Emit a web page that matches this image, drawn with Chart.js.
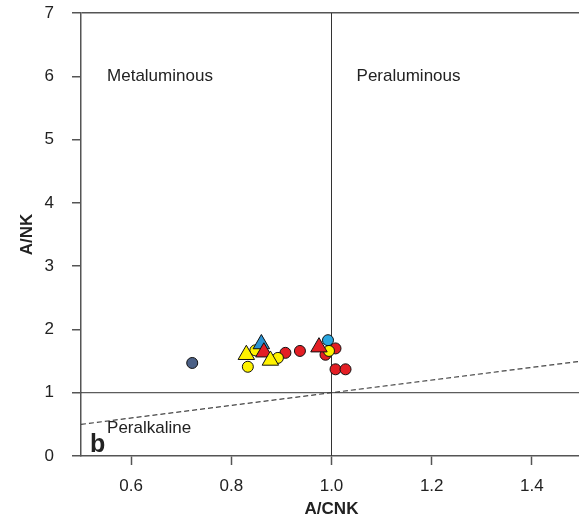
<!DOCTYPE html>
<html>
<head>
<title>A/CNK - A/NK</title>
<style>
  body { margin: 0; overflow: hidden; background: #fff; }
</style>
</head>
<body>

<canvas id="myChart" width="582" height="524"></canvas>

<script src="https://cdn.jsdelivr.net/npm/chart.js"></script>

<script>
    // axis ticks
    var xTicks = [0.6, 0.8, 1.0, 1.2, 1.4];
    var yTicks = [0, 1, 2, 3, 4, 5, 6, 7];

    // samples: A/CNK (x), A/NK (y)
    var redCircles = [
        {x: 0.908, y: 1.63}, {x: 0.937, y: 1.66}, {x: 0.988, y: 1.60},
        {x: 1.008, y: 1.70}, {x: 1.008, y: 1.37}, {x: 1.028, y: 1.37}
    ];
    var yellowCircles = [
        {x: 0.833, y: 1.41}, {x: 0.848, y: 1.67}, {x: 0.893, y: 1.55},
        {x: 0.995, y: 1.66}
    ];
    var blueCircles = [{x: 0.993, y: 1.83}];
    var slateCircles = [{x: 0.722, y: 1.47}];
    var redTriangles = [{x: 0.865, y: 1.64}, {x: 0.975, y: 1.72}];
    var yellowTriangles = [{x: 0.830, y: 1.60}, {x: 0.878, y: 1.51}];
    var blueTriangles = [{x: 0.860, y: 1.77}];

    // field boundaries
    var lineAcnk = [{x: 1.0, y: 0}, {x: 1.0, y: 7}];
    var lineAnk = [{x: 0.5, y: 1}, {x: 1.5, y: 1}];
    var linePeralk = [{x: 0.5, y: 0.5}, {x: 1.5, y: 1.5}];

    // field names
    var fieldNames = ['Metaluminous', 'Peraluminous', 'Peralkaline'];
    var fieldX = [0.552, 1.05, 0.552];
    var fieldY = [6, 6, 0.44];
    var panelLetter = 'b';

    var fontFamily = "'Liberation Sans', Arial, sans-serif";

    function pts(label, data, color, shape, radius, order) {
        return {
            label: label,
            data: data,
            backgroundColor: color,
            borderColor: '#111',
            borderWidth: 1,
            pointStyle: shape,
            pointRadius: radius,
            pointHoverRadius: radius,
            order: order
        };
    }

    function line(label, data, width, color, dash) {
        return {
            label: label,
            data: data,
            showLine: true,
            borderColor: color,
            borderWidth: width,
            borderDash: dash,
            pointRadius: 0,
            fill: false,
            order: 20
        };
    }

    const fieldText = {
        id: 'fieldText',
        afterDraw(chart) {
            const ctx = chart.ctx;
            const xs = chart.scales.x, ys = chart.scales.y;
            ctx.save();
            ctx.fillStyle = '#222';
            ctx.textAlign = 'left';
            ctx.textBaseline = 'middle';
            ctx.font = '17px ' + fontFamily;
            for (let i = 0; i < fieldNames.length; i++) {
                ctx.fillText(fieldNames[i], xs.getPixelForValue(fieldX[i]), ys.getPixelForValue(fieldY[i]));
            }
            ctx.font = 'bold 25px ' + fontFamily;
            ctx.textBaseline = 'alphabetic';
            ctx.fillText(panelLetter, xs.getPixelForValue(0.518), ys.getPixelForValue(0.07));
            ctx.restore();
        }
    };

    const ctx = document.getElementById('myChart');

    const data = {
        datasets: [
            pts('Red circles', redCircles, '#E31E24', 'circle', 5.5, 7),
            pts('Blue circles', blueCircles, '#2AA7E0', 'circle', 5.5, 6),
            pts('Slate circles', slateCircles, '#4B6086', 'circle', 5.5, 5),
            pts('Yellow circles', yellowCircles, '#FFF200', 'circle', 5.5, 4),
            pts('Blue triangles', blueTriangles, '#2B93D3', 'triangle', 9.5, 3),
            pts('Red triangles', redTriangles, '#E31E24', 'triangle', 9.5, 2),
            pts('Yellow triangles', yellowTriangles, '#FFF200', 'triangle', 9.5, 1),
            line('A/CNK = 1', lineAcnk, 1, '#333', []),
            line('A/NK = 1', lineAnk, 1, '#333', []),
            line('Peralkaline', linePeralk, 1.2, '#444', [5, 3])
        ]
    };

    const config = {
        type: 'scatter',
        data: data,
        plugins: [fieldText],
        options: {
            responsive: false,
            animation: false,
            layout: {
                autoPadding: false,
                padding: { top: 13, right: 0, bottom: 0, left: 0 }
            },
            scales: {
                x: {
                    type: 'linear',
                    min: 0.5,
                    max: 1.5,
                    afterBuildTicks: function (s) { s.ticks = xTicks.map(v => ({value: v})); },
                    afterFit: function (s) {
                        s.height = 68;
                        s.paddingLeft = 0;
                        s.paddingRight = 0;
                    },
                    ticks: {
                        padding: 11,
                        color: '#222',
                        font: { family: fontFamily, size: 17 },
                        callback: v => Number(v).toFixed(1)
                    },
                    grid: {
                        drawOnChartArea: false,
                        tickLength: 9,
                        tickColor: '#555',
                        tickWidth: 1.5
                    },
                    border: { display: true, color: '#555', width: 1.5 },
                    title: {
                        display: true,
                        text: 'A/CNK',
                        color: '#222',
                        font: { family: fontFamily, size: 17, weight: 'bold' },
                        padding: { top: 0, bottom: 4 }
                    }
                },
                y: {
                    type: 'linear',
                    min: 0,
                    max: 7,
                    afterBuildTicks: function (s) { s.ticks = yTicks.map(v => ({value: v})); },
                    afterFit: function (s) {
                        s.width = 81;
                        s.paddingTop = 0;
                        s.paddingBottom = 0;
                    },
                    ticks: {
                        padding: 18,
                        color: '#222',
                        font: { family: fontFamily, size: 17 }
                    },
                    grid: {
                        color: c => (c.tick && c.tick.value === 7) ? '#555' : 'rgba(0,0,0,0)',
                        lineWidth: 1.5,
                        tickLength: 9,
                        tickColor: '#555',
                        tickWidth: 1.5
                    },
                    border: { display: true, color: '#555', width: 1.5 },
                    title: {
                        display: true,
                        text: 'A/NK',
                        color: '#222',
                        font: { family: fontFamily, size: 17, weight: 'bold' },
                        padding: { top: 17, bottom: 0 }
                    }
                }
            },
            plugins: {
                legend: { display: false },
                tooltip: { enabled: false }
            }
        }
    };

    new Chart(ctx, config);
</script>

</body>
</html>
